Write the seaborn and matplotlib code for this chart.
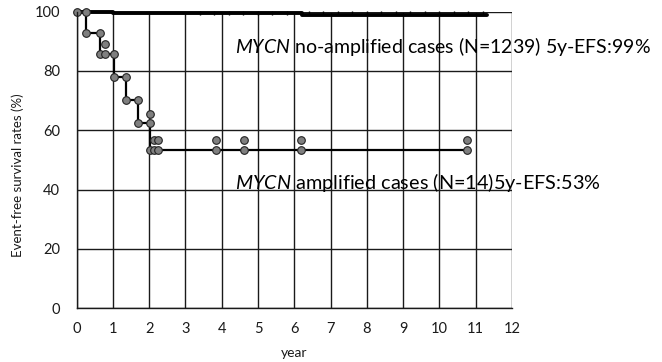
import matplotlib
matplotlib.use("Agg")
import matplotlib.pyplot as plt
import seaborn as sns
import pandas as pd

sns.set_theme(style="white")
plt.rcParams["font.family"] = ["Lato", "DejaVu Sans"]
plt.rcParams["mathtext.fontset"] = "custom"
plt.rcParams["mathtext.rm"] = "Lato"
plt.rcParams["mathtext.it"] = "Lato:italic"

# MYCN amplified cases: Kaplan-Meier step path (years, % event-free)
amp_time = [0, 0.25, 0.25, 0.66, 0.66, 0.78, 1.04, 1.04, 1.35, 1.35, 1.70, 1.70,
            2.02, 2.02, 2.13, 2.25, 3.84, 4.62, 6.18, 10.75]
amp_surv = [100, 100, 92.9, 92.9, 85.7, 85.7, 85.7, 78.0, 78.0, 70.2, 70.2, 62.4,
            62.4, 53.5, 53.5, 53.5, 53.5, 53.5, 53.5, 53.5]
# censoring marks for the amplified group
amp_cens_time = [0.78, 2.02, 2.13, 2.25, 3.84, 4.62, 6.18, 10.75]
amp_cens_surv = [89.0, 65.4, 56.8, 56.8, 56.8, 56.8, 56.8, 56.8]

# MYCN non-amplified cases
non_time = [0, 0.25, 1.0, 3.2, 6.2, 11.3]
non_surv = [100, 99.8, 99.6, 99.4, 99.0, 99.0]
non_cens_time = [3.4, 3.8, 4.2, 4.6, 5.0, 5.4, 5.8, 6.4, 6.8, 7.2, 7.6, 8.0,
                 8.4, 8.8, 9.2, 9.6, 10.0, 10.4, 10.8, 11.2]

x_ticks = list(range(0, 13))
y_ticks = [0, 20, 40, 60, 80, 100]

label_non = r"$\mathit{MYCN}$ no-amplified cases (N=1239) 5y-EFS:99%"
label_amp = r"$\mathit{MYCN}$ amplified cases (N=14)5y-EFS:53%"

amp_df = pd.DataFrame({"year": amp_time, "efs": amp_surv})
amp_cens = pd.DataFrame({"year": amp_cens_time, "efs": amp_cens_surv})
non_df = pd.DataFrame({"year": non_time, "efs": non_surv})
non_cens = pd.DataFrame({"year": non_cens_time,
                         "efs": [99.6] * len(non_cens_time)})

fig = plt.figure(figsize=(6.62, 3.62), dpi=100)
ax = fig.add_axes([0.1156, 0.149, 0.6578, 0.8187])

ax.set_xlim(0, 12)
ax.set_ylim(0, 100)
ax.set_xticks(x_ticks)
ax.set_yticks(y_ticks)
ax.grid(True, color="#1a1a1a", linewidth=1.0)
ax.set_axisbelow(True)
for side in ["top", "right"]:
    ax.spines[side].set_visible(False)
for side in ["left", "bottom"]:
    ax.spines[side].set_color("#1a1a1a")
    ax.spines[side].set_linewidth(1.0)

# non-amplified curve (drawn as a heavy step line)
sns.lineplot(data=non_df, x="year", y="efs", drawstyle="steps-post",
             sort=False, estimator=None, color="black", linewidth=2.8,
             ax=ax, clip_on=False)
sns.scatterplot(data=non_cens, x="year", y="efs", marker="|", s=8,
                color="black", linewidth=1.0, ax=ax, clip_on=False)

# amplified curve with circle markers
sns.lineplot(data=amp_df, x="year", y="efs", sort=False, estimator=None,
             color="black", linewidth=1.6, marker="o", markersize=5.5,
             markerfacecolor="#7f7f7f", markeredgecolor="#222222",
             markeredgewidth=0.8, ax=ax, clip_on=False)
sns.scatterplot(data=amp_cens, x="year", y="efs", s=30, color="#7f7f7f",
                edgecolor="#222222", linewidth=0.8, ax=ax, clip_on=False,
                zorder=4)

ax.text(4.38, 88.2, label_non, fontsize=14, va="center", ha="left",
        color="black")
ax.text(4.38, 42.2, label_amp, fontsize=14.3, va="center", ha="left",
        color="black")

ax.tick_params(axis="both", length=0, labelsize=10.5, colors="#1a1a1a")
ax.tick_params(axis="y", pad=12)
ax.tick_params(axis="x", pad=10)
ax.set_xlabel("year", fontsize=10, color="#1a1a1a", labelpad=8)
ax.set_ylabel("Event-free survival rates (%)", fontsize=9.5, color="#1a1a1a")
ax.yaxis.set_label_coords(-0.12, 0.45)

fig.savefig("out.png", dpi=100)
